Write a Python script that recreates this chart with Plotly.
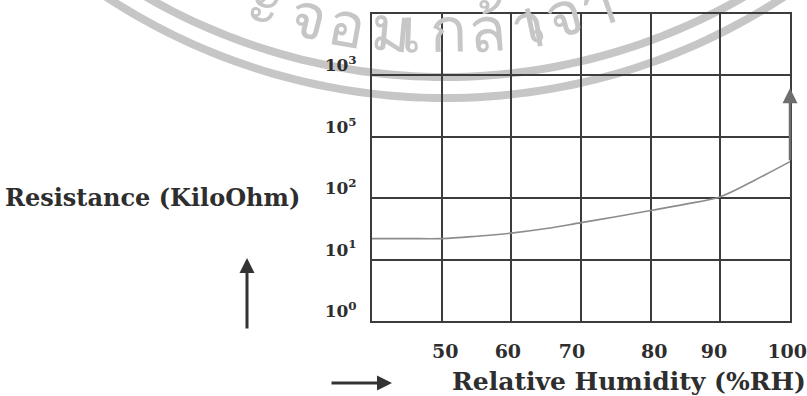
import math
import plotly.graph_objects as go

# ---------------- data ----------------
humidity = [40, 45, 50, 55, 60, 65, 70, 75, 80, 85, 90, 95, 100]
resistance_kohm = [22, 22, 22, 24, 27, 32, 40, 50, 63, 80, 106, 198, 393]
arrow_top_kohm = 6200

x_tick_labels = ["50", "60", "70", "80", "90", "100"]
x_tick_pos = [50.5, 59.5, 68.7, 80.5, 89.1, 99.6]
y_tick_vals = [1, 10, 100, 1000, 10000]
y_tick_labels = ["10<sup>0</sup>", "10<sup>1</sup>", "10<sup>2</sup>",
                 "10<sup>5</sup>", "10<sup>3</sup>"]

y_title = "Resistance (KiloOhm)"
x_title = "Relative Humidity (%RH)"
watermark_chars = ["ะ", "จ", "อ", "ม", "เ", "ก", "ล้", "า", "เ", "จ้", "า"]
watermark_angles = [-18.9, -14.2, -10.0, -5.3, -2.0, 1.0, 4.6, 8.6, 11.8, 15.0, 18.6]

# ---------------- layout geometry ----------------
W, H = 807, 396
L, R, T, B = 372, 790, 14, 321


def px(x):
    return (x - L) / (R - L)


def py(y):
    return (B - y) / (B - T)


FONT = "DejaVu Serif"
INK = "#2e2e2e"
GRID = "#3c3c3c"

fig = go.Figure()
fig.add_trace(go.Scatter(x=humidity, y=resistance_kohm, mode="lines",
                         line=dict(color="#8c8c8c", width=1.6, shape="spline"),
                         hoverinfo="skip", showlegend=False))

# watermark arcs (decoration)
cx, cy = 445, -520
for rad in (597, 618):
    pts = []
    for i in range(81):
        a = math.radians(-40 + i)
        pts.append((px(cx + rad * math.sin(a)), py(cy + rad * math.cos(a))))
    path = "M " + " L ".join(f"{a:.4f},{b:.4f}" for a, b in pts)
    fig.add_shape(type="path", path=path, xref="paper", yref="paper",
                  line=dict(color="#c6c6c6", width=8), layer="below")

for ch, ang in zip(watermark_chars, watermark_angles):
    a = math.radians(ang)
    gx = cx + 563 * math.sin(a) - 28
    gy = cy + 563 * math.cos(a) - 19
    fig.add_annotation(x=px(gx), y=py(gy), xref="paper", yref="paper", text=ch,
                       showarrow=False, textangle=-ang, yshift=40,
                       font=dict(family="Noto Sans, sans-serif", size=62,
                                 color="#c6c6c6"))

# arrow on the curve end
fig.add_annotation(x=100, y=math.log10(arrow_top_kohm), ax=100,
                   ay=math.log10(resistance_kohm[-1]), xref="x", yref="y",
                   axref="x", ayref="y", showarrow=True, arrowhead=2,
                   arrowsize=1.2, arrowwidth=2.5, arrowcolor="#6e6e6e", text="")

# axis titles and arrows
fig.add_annotation(x=px(3), y=py(197), xref="paper", yref="paper", text=y_title,
                   showarrow=False, xanchor="left", yanchor="middle",
                   font=dict(family=FONT, size=24, color=INK, weight="bold"))
fig.add_annotation(x=px(450), y=py(381), xref="paper", yref="paper", text=x_title,
                   showarrow=False, xanchor="left", yanchor="middle",
                   font=dict(family=FONT, size=25, color=INK, weight="bold"))
fig.add_annotation(x=px(247), y=py(258), xref="paper", yref="paper", text="",
                   showarrow=True, ax=0, ay=72, arrowhead=2, arrowsize=1,
                   arrowwidth=3, arrowcolor="#333333")
fig.add_annotation(x=px(392), y=py(383), xref="paper", yref="paper", text="",
                   showarrow=True, ax=-62, ay=0, arrowhead=2, arrowsize=1,
                   arrowwidth=3, arrowcolor="#333333")

fig.update_xaxes(range=[40, 100], tickvals=x_tick_pos, ticktext=x_tick_labels,
                 showgrid=False, ticks="", zeroline=False, automargin=False,
                 minor=dict(dtick=10, tick0=0, showgrid=True, gridcolor=GRID,
                            gridwidth=1.6, ticks=""),
                 showline=True, mirror=True, linecolor=GRID, linewidth=2,
                 tickfont=dict(family=FONT, size=19, color=INK, weight="bold"),
                 ticklabelstandoff=12, ticklabeloverflow="allow")
fig.update_yaxes(type="log", range=[0, 5], tickvals=y_tick_vals, ticktext=y_tick_labels,
                 showgrid=True, gridcolor=GRID, gridwidth=1.6, ticks="", zeroline=False,
                 automargin=False,
                 showline=True, mirror=True, linecolor=GRID, linewidth=2,
                 tickfont=dict(family=FONT, size=17, color=INK, weight="bold"),
                 ticklabelshift=-10, ticklabelstandoff=10, ticklabeloverflow="allow")

fig.update_layout(width=W, height=H, margin=dict(l=L, r=W - R, t=T, b=H - B),
                  paper_bgcolor="white", plot_bgcolor="rgba(0,0,0,0)",
                  showlegend=False)
fig.write_html("out.html", config={"displayModeBar": False},
               post_script="document.body.style.margin='0';"
                           "document.body.style.overflow='hidden';")
